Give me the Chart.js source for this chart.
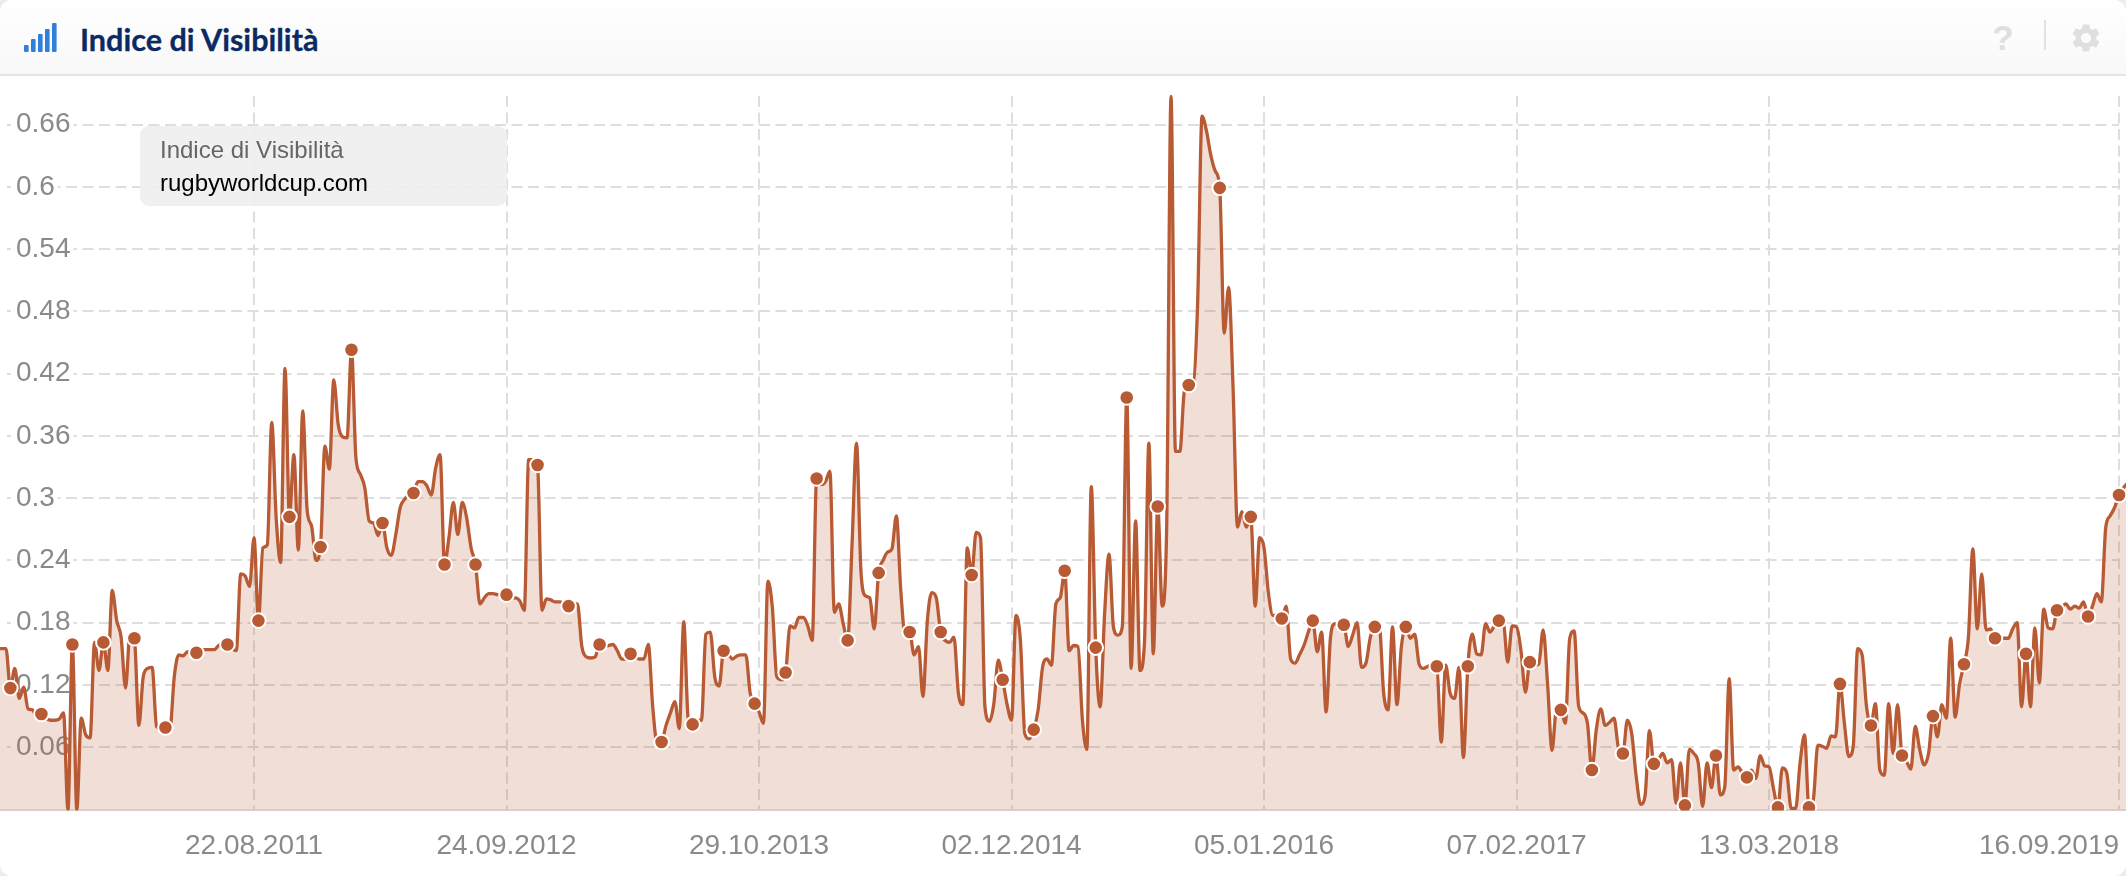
<!DOCTYPE html>
<html lang="it"><head><meta charset="utf-8"><title>Indice di Visibilità</title>
<script src="https://cdn.jsdelivr.net/npm/chart.js@4"></script>
<style>
html,body{margin:0;padding:0;background:#ececec;width:2126px;height:876px;overflow:hidden}
#card{position:absolute;left:0;top:0;width:2126px;height:876px;background:#fff;border-radius:12px;overflow:hidden}
#head{position:absolute;left:0;top:0;width:2126px;height:74px;border-bottom:2px solid #e4e4e4;background:linear-gradient(#ffffff,#f8f8f8);z-index:2}
#title{position:absolute;left:80px;top:19px;font:700 30.6px/42px Lato,sans-serif;color:#0b2a63;white-space:nowrap;-webkit-text-stroke:.3px #0b2a63}
#icon{position:absolute;left:24px;top:23px}
#help{position:absolute;left:1990px;top:17px;width:26px;text-align:center;font:700 35px/42px "Liberation Sans",sans-serif;color:#dfdfdf}
#sep{position:absolute;left:2044px;top:20px;width:2px;height:30px;background:#e2e2e2}
#gear{position:absolute;left:2069px;top:21px}
#box{position:absolute;left:140px;top:126px;width:367px;height:80px;border-radius:9px;background:rgba(238,238,238,.9);z-index:1;font-family:"Liberation Sans",Arial,sans-serif;font-size:24px}
#box div{position:absolute;left:20px;white-space:nowrap}
#c{position:absolute;left:0;top:0}
</style></head><body>
<div id="card">
<canvas id="c" width="2126" height="876"></canvas>
<div id="head">
<svg id="icon" width="34" height="30" viewBox="0 0 34 30"><rect x="0" y="22" width="4.6" height="7" rx="1" fill="#2f7fdc"/><rect x="7" y="16" width="4.6" height="13" rx="1" fill="#2f7fdc"/><rect x="14" y="11" width="4.6" height="18" rx="1" fill="#2f7fdc"/><rect x="21" y="6" width="4.6" height="23" rx="1" fill="#2f7fdc"/><rect x="28" y="0" width="4.6" height="29" rx="1" fill="#2f7fdc"/></svg>
<div id="title">Indice di Visibilità</div>
<div id="help">?</div><div id="sep"></div>
<svg id="gear" width="34" height="34" viewBox="0 0 24 24"><path fill="#dfdfdf" d="M19.14 12.94c.04-.3.06-.61.06-.94 0-.32-.02-.64-.07-.94l2.03-1.58c.18-.14.23-.41.12-.61l-1.92-3.32c-.12-.22-.37-.29-.59-.22l-2.39.96c-.5-.38-1.03-.7-1.62-.94l-.36-2.54c-.04-.24-.24-.41-.48-.41h-3.84c-.24 0-.43.17-.47.41l-.36 2.54c-.59.24-1.13.57-1.62.94l-2.39-.96c-.22-.08-.47 0-.59.22L2.74 8.87c-.12.21-.08.47.12.61l2.03 1.58c-.05.3-.09.63-.09.94s.02.64.07.94l-2.03 1.58c-.18.14-.23.41-.12.61l1.92 3.32c.12.22.37.29.59.22l2.39-.96c.5.38 1.03.7 1.62.94l.36 2.54c.05.24.24.41.48.41h3.84c.24 0 .44-.17.47-.41l.36-2.54c.59-.24 1.13-.56 1.62-.94l2.39.96c.22.08.47 0 .59-.22l1.92-3.32c.12-.22.07-.47-.12-.61l-2.01-1.58zM12 15.6c-1.98 0-3.6-1.62-3.6-3.6s1.62-3.6 3.6-3.6 3.6 1.62 3.6 3.6-1.62 3.6-3.6 3.6z"/></svg>
</div>
<div id="box"><div style="top:10px;color:#666">Indice di Visibilità</div><div style="top:43px;color:#000">rugbyworldcup.com</div></div>
</div>
<script>
const visibility = [
.155,.155,.155,.117,.136,.107,.118,.097,.096,.088,.092,
.088,.086,.086,.087,.093,0,.159,0,.088,.072,
.069,.161,.134,.161,.134,.211,.182,.166,.117,.169,
.165,.081,.128,.136,.137,.08,.078,.079,.077,.128,
.149,.148,.152,.15,.151,.154,.154,.154,.154,.158,
.16,.159,.155,.153,.227,.225,.215,.262,.182,.252,
.255,.373,.281,.238,.425,.282,.342,.25,.384,.288,
.273,.24,.253,.35,.328,.414,.371,.359,.358,.443,
.339,.323,.31,.278,.276,.264,.276,.252,.245,.265,
.291,.299,.303,.305,.316,.316,.312,.303,.329,.342,
.236,.262,.296,.265,.296,.281,.252,.236,.198,.204,
.208,.208,.207,.207,.207,.204,.204,.201,.192,.337,
.337,.332,.192,.203,.202,.2,.2,.198,.196,.198,
.198,.157,.147,.146,.147,.159,.157,.158,.159,.153,
.145,.145,.15,.147,.145,.145,.159,.099,.064,.065,
.081,.093,.104,.078,.181,.088,.082,.086,.086,.169,
.171,.128,.119,.153,.15,.145,.148,.149,.149,.112,
.102,.094,.083,.22,.195,.128,.125,.132,.177,.175,
.185,.185,.177,.163,.319,.313,.316,.326,.19,.198,
.179,.163,.256,.353,.23,.206,.204,.174,.228,.24,
.248,.251,.283,.211,.168,.171,.149,.157,.109,.182,
.209,.204,.171,.163,.161,.166,.112,.101,.252,.226,
.267,.262,.099,.085,.102,.144,.125,.101,.086,.187,
.163,.073,.068,.077,.096,.137,.145,.139,.198,.204,
.23,.153,.158,.157,.086,.058,.311,.156,.099,.188,
.246,.176,.168,.176,.397,.136,.278,.134,.16,.353,
.15,.292,.196,.268,.687,.345,.345,.403,.409,.41,
.487,.668,.654,.63,.615,.599,.459,.503,.407,.272,
.287,.272,.282,.196,.262,.252,.208,.187,.187,.184,
.196,.145,.141,.149,.158,.171,.182,.152,.171,.094,
.166,.179,.178,.178,.157,.168,.18,.137,.141,.166,
.176,.177,.112,.096,.176,.101,.157,.176,.165,.169,
.14,.136,.138,.139,.138,.065,.139,.112,.107,.137,
.05,.138,.169,.15,.149,.179,.171,.177,.182,.181,
.142,.177,.176,.153,.113,.142,.139,.14,.173,.121,
.057,.096,.096,.083,.165,.172,.1,.093,.083,.038,
.077,.097,.081,.084,.088,.059,.054,.086,.073,.032,
.005,.013,.076,.044,.048,.054,.045,.048,.006,.045,
.004,.058,.054,.045,.003,.045,.021,.052,.014,.022,
.126,.038,.041,.035,.031,.038,.03,.052,.042,.041,
.02,.002,.04,.035,.001,.001,.045,.072,.002,.01,
.062,.061,.059,.071,.07,.121,.083,.051,.061,.155,
.149,.099,.081,.102,.038,.033,.102,.054,.101,.052,
.046,.039,.08,.058,.043,.054,.09,.07,.101,.088,
.165,.089,.121,.14,.166,.251,.174,.227,.173,.174,
.165,.166,.165,.165,.174,.18,.099,.15,.099,.175,
.122,.193,.175,.174,.192,.195,.198,.193,.196,.194,
.2,.186,.196,.208,.2,.272,.283,.291,.303,.31,.315
];
const tickWeeks  = [57,114,171,228,285,342,399,478];
const tickLabels = ['22.08.2011','24.09.2012','29.10.2013','02.12.2014','05.01.2016','07.02.2017','13.03.2018','16.09.2019'];
const yTicks     = [0.06,0.12,0.18,0.24,0.3,0.36,0.42,0.48,0.54,0.6,0.66];
const xMin = -0.34, xMax = 479.57, yMax = 0.6875;
const lineColor = '#b85a34', gridColor = '#dedede';
const clear = 'rgba(222,222,222,0)';

function hGrid(c) {
  const g = c.chart.ctx.createLinearGradient(0, 0, 2126, 0);
  g.addColorStop(0, clear); g.addColorStop(0.0032, clear); g.addColorStop(0.0033, gridColor);
  g.addColorStop(0.9967, gridColor); g.addColorStop(0.9968, clear); g.addColorStop(1, clear);
  return g;
}

new Chart(document.getElementById('c'), {
  type: 'line',
  data: { datasets: [{
    data: visibility.map((v, i) => ({ x: i - 1, y: v })),
    borderColor: lineColor, borderWidth: 3.3,
    backgroundColor: 'rgba(184,90,52,0.2)', fill: 'origin',
    cubicInterpolationMode: 'monotone',
    pointRadius: c => c.dataIndex % 7 === 3 ? 7.3 : 0,
    pointBackgroundColor: lineColor, pointBorderColor: '#fff', pointBorderWidth: 2,
    clip: { left: 2, right: 2, top: 8, bottom: 1 }
  }]},
  options: {
    responsive: false, animation: false, devicePixelRatio: 1,
    layout: { autoPadding: false, padding: { left: 0, right: 0, top: 96, bottom: 0 } },
    plugins: { legend: { display: false }, tooltip: { enabled: false } },
    scales: {
      x: {
        type: 'linear', bounds: 'data',
        afterBuildTicks: s => {
          s.ticks = [{ value: xMin }].concat(tickWeeks.map(v => ({ value: v })));
          s.min = xMin; s.max = xMax;
        },
        afterFit: s => { s.height = 66.5; s.paddingLeft = 0; s.paddingRight = 0; },
        grid: {
          color: c => (c.tick && c.tick.value === xMin) ? 'rgba(0,0,0,0)' : gridColor,
          lineWidth: 2, drawTicks: false, z: -1
        },
        border: { display: true, color: '#d9cfcf', width: 2, dash: [11, 5.5] },
        ticks: {
          autoSkip: false, maxRotation: 0, align: 'inner', padding: 20,
          font: { family: '"Liberation Sans",Arial,sans-serif', size: 28 }, color: '#8a8a8a',
          callback: v => { const k = tickWeeks.indexOf(v); return k < 0 ? '' : tickLabels[k]; }
        }
      },
      y: {
        type: 'linear', min: 0, max: yMax, bounds: 'data',
        afterBuildTicks: s => { s.ticks = yTicks.map(v => ({ value: v })); },
        afterFit: s => { s.width = 0; },
        grid: { color: hGrid, lineWidth: 2, drawTicks: false, z: -1 },
        border: { display: false, dash: [11, 5.5] },
        ticks: {
          mirror: true, padding: 16, crossAlign: 'near',
          showLabelBackdrop: true, backdropColor: '#fff', backdropPadding: { left: 3, right: 3, top: 0, bottom: 0 },
          font: { family: '"Liberation Sans",Arial,sans-serif', size: 28 }, color: '#8a8a8a',
          callback: v => String(v)
        }
      }
    }
  }
});
</script>
</body></html>
